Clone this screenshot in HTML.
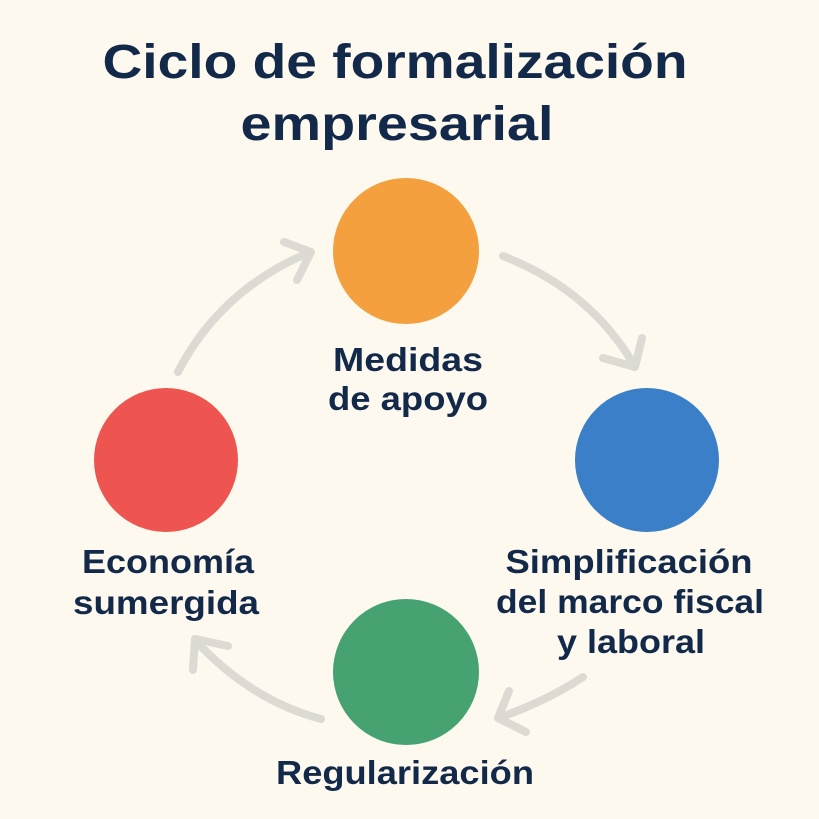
<!DOCTYPE html>
<html><head><meta charset="utf-8"><style>
html,body{margin:0;padding:0;background:#fdf9ee;}
svg{display:block}
text{font-family:"Liberation Sans",sans-serif;font-weight:bold;fill:#12294a;text-anchor:middle}
</style></head><body>
<svg width="819" height="819" viewBox="0 0 819 819">
<rect width="819" height="819" fill="#fdf9ee"/>
<text x="395" y="78" font-size="48" textLength="585" lengthAdjust="spacingAndGlyphs">Ciclo de formalización</text>
<text x="397" y="140" font-size="48" textLength="313" lengthAdjust="spacingAndGlyphs">empresarial</text>
<g stroke="#dcdad3" stroke-width="8" fill="none" stroke-linecap="round" stroke-linejoin="round">
<path d="M178 372 Q220 290 310 252"/>
<path d="M284 242 L311 252 L297 280"/>
<path d="M503 256 Q590 290 634 365"/>
<path d="M603 358 L635 367 L642 338"/>
<path d="M583 677 Q545 702 498 718"/>
<path d="M509 691 L498 718 L526 732"/>
<path d="M321 719 Q250 700 195 640"/>
<path d="M228 646 L195 639 L193 670"/>
</g>
<circle cx="406" cy="251" r="73" fill="#f4a03f"/>
<circle cx="647" cy="460" r="72" fill="#3a7fc8"/>
<circle cx="166" cy="460" r="72" fill="#ee5550"/>
<circle cx="406" cy="672" r="73" fill="#46a271"/>
<g font-size="33">
<text x="408" y="371" textLength="150" lengthAdjust="spacingAndGlyphs">Medidas</text>
<text x="408" y="410" textLength="160" lengthAdjust="spacingAndGlyphs">de apoyo</text>
<text x="168" y="573" textLength="172" lengthAdjust="spacingAndGlyphs">Economía</text>
<text x="166" y="614" textLength="186" lengthAdjust="spacingAndGlyphs">sumergida</text>
<text x="629" y="573" textLength="247" lengthAdjust="spacingAndGlyphs">Simplificación</text>
<text x="630" y="613" textLength="268" lengthAdjust="spacingAndGlyphs">del marco fiscal</text>
<text x="631" y="653" textLength="148" lengthAdjust="spacingAndGlyphs">y laboral</text>
<text x="405" y="784" textLength="258" lengthAdjust="spacingAndGlyphs">Regularización</text>
</g>
</svg>
</body></html>
